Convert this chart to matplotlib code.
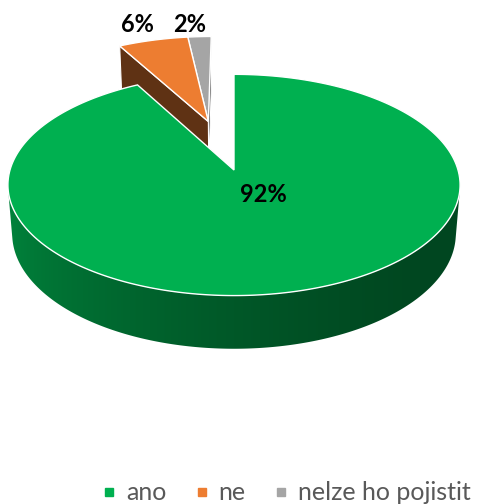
import numpy as np
import matplotlib.pyplot as plt
from matplotlib.patches import Polygon
from matplotlib.lines import Line2D
from matplotlib.colors import to_rgb

plt.rcParams['font.family'] = ['Lato', 'DejaVu Sans']

categories = ['ano', 'ne', 'nelze ho pojistit']
shares = [92, 6, 2]
colors = ['#00B050', '#ED7D31', '#A5A5A5']
value_labels = ['92%', '6%', '2%']
explode = [0.0, 0.49, 0.49]

# perspective camera, everything is drawn in pixel space
CX, CY = 234, 170
SCALE = 224
ELEV = np.radians(29)
DIST = 6.47
DEPTH = 0.252
cam = np.array([0.0, -DIST * np.cos(ELEV), DIST * np.sin(ELEV)])
LIGHT = np.radians(300)


def project(x, y, z):
    v = y * np.sin(ELEV) + z * np.cos(ELEV)
    w = y * np.cos(ELEV) - z * np.sin(ELEV)
    s = DIST / (DIST + w)
    return CX + SCALE * x * s, CY - SCALE * v * s


def depth(x, y, z):
    return y * np.cos(ELEV) - z * np.sin(ELEV)


def unit(a):
    return np.array([np.sin(a), np.cos(a), 0.0])


def shade(col, f):
    return np.clip(np.array(to_rgb(col)) * f, 0, 1)


fig = plt.figure(figsize=(4.8, 5.04), dpi=100)
ax = fig.add_axes([0, 0, 1, 1])

# slice angles, clockwise from 12 o'clock
fr = np.array(shares) / sum(shares)
ends = np.cumsum(fr) * 2 * np.pi
starts = ends - fr * 2 * np.pi

# exploded slices move together along the bisector of their group
grp = [i for i, e in enumerate(explode) if e > 0]
grp_dir = (starts[grp[0]] + ends[grp[-1]]) / 2

slices = []
for i in range(len(shares)):
    off = unit(grp_dir) * explode[i] if explode[i] > 0 else np.zeros(3)
    mid = (starts[i] + ends[i]) / 2
    c = off + unit(mid) * 0.5
    slices.append((depth(*c), i, off))
slices.sort(key=lambda t: -t[0])

for _, i, off in slices:
    a0, a1 = starts[i], ends[i]
    n = max(int(np.degrees(a1 - a0) * 4), 2) + 1
    th = np.linspace(a0, a1, n)
    col = colors[i]

    # outer wall: visible part filled with a shaded gradient
    vis = [t for t in th if np.dot(unit(t), cam - (off + unit(t))) > 0]
    if len(vis) > 1:
        top = [project(*(off + unit(t))[:2], 0) for t in vis]
        bot = [project(*(off + unit(t))[:2], -DEPTH) for t in vis]
        wall = Polygon(top + bot[::-1], closed=True, fc='none', ec='none')
        ax.add_patch(wall)
        xs = np.array([p[0] for p in top])
        fs = 0.6 + 0.2 * np.cos(np.array(vis) - LIGHT)
        order = np.argsort(xs)
        gx = np.linspace(xs.min(), xs.max(), 500)
        f = np.interp(gx, xs[order], fs[order])
        img = np.array([[shade(col, k) for k in f]])
        ys = [p[1] for p in top + bot]
        im = ax.imshow(img, extent=(xs.min(), xs.max(), max(ys), min(ys)),
                       aspect='auto', interpolation='bilinear')
        im.set_clip_path(wall)

    # cut faces
    for a, nrm in [(a0, a0 - np.pi / 2), (a1, a1 + np.pi / 2)]:
        if np.dot(unit(nrm), cam - off) <= 0:
            continue
        q = off + unit(a)
        pts = [project(off[0], off[1], 0), project(q[0], q[1], 0),
               project(q[0], q[1], -DEPTH), project(off[0], off[1], -DEPTH)]
        ax.add_patch(Polygon(pts, closed=True, fc=shade(col, 0.4),
                             ec='white', lw=0.8))

    # top face
    pts = [project(off[0], off[1], 0)]
    for t in th:
        q = off + unit(t)
        pts.append(project(q[0], q[1], 0))
    ax.add_patch(Polygon(pts, closed=True, fc=col, ec='white', lw=1.0))

ax.set_xlim(0, 480)
ax.set_ylim(504, 0)
ax.axis('off')

label_pos = [(263, 194), (137, 25), (190, 25)]
for txt, (x, y) in zip(value_labels, label_pos):
    ax.text(x, y, txt, ha='center', va='center', fontsize=17,
            fontweight='bold', color='black')

handles = [Line2D([], [], marker='s', ls='', color=c, markersize=5.5)
           for c in colors]
fig.legend(handles, categories, loc='center', bbox_to_anchor=(0.596, 0.022),
           ncol=3, frameon=False, fontsize=18, labelcolor='#595959',
           handlelength=0.6, handletextpad=0.38, columnspacing=1.1,
           borderpad=0.1)

fig.savefig('out.png', dpi=100)
